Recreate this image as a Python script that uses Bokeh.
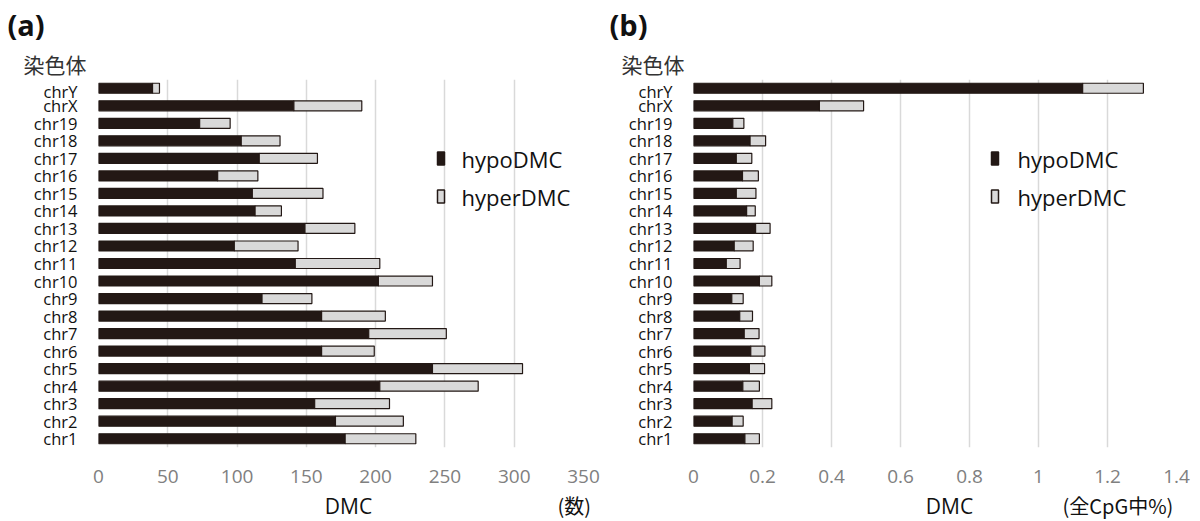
from bokeh.plotting import figure
from bokeh.models import (Label, BoxAnnotation, FactorRange, Range1d, ColumnDataSource,
                          FixedTicker, NumeralTickFormatter)
from bokeh.layouts import row, column
from bokeh.embed import file_html
from bokeh.resources import INLINE

chroms = ["chr1", "chr2", "chr3", "chr4", "chr5", "chr6", "chr7", "chr8", "chr9", "chr10",
          "chr11", "chr12", "chr13", "chr14", "chr15", "chr16", "chr17", "chr18", "chr19",
          "chrX", "chrY"]

# (a) DMC counts
hypo_count = [178, 171, 156, 203, 241, 161, 195, 161, 118, 202,
              142, 98, 149, 113, 111, 86, 116, 103, 73, 141, 39]
hyper_count = [51, 49, 54, 71, 65, 38, 56, 46, 36, 39,
               61, 46, 36, 19, 51, 29, 42, 28, 22, 49, 5]

# (b) DMC as % of all CpG
hypo_pct = [0.149, 0.112, 0.170, 0.143, 0.162, 0.166, 0.147, 0.134, 0.111, 0.191,
            0.095, 0.118, 0.180, 0.154, 0.124, 0.142, 0.124, 0.164, 0.114, 0.365, 1.128]
hyper_pct = [0.042, 0.032, 0.057, 0.048, 0.044, 0.041, 0.043, 0.037, 0.033, 0.036,
             0.040, 0.055, 0.042, 0.025, 0.057, 0.046, 0.045, 0.045, 0.032, 0.128, 0.176]

ticks_a = [0, 50, 100, 150, 200, 250, 300, 350]
ticks_b = [0, 0.2, 0.4, 0.6, 0.8, 1.0, 1.2, 1.4]

series_names = ["hypoDMC", "hyperDMC"]
panel_titles = ["(a)", "(b)"]
y_title = "染色体"
x_title = "DMC"
unit_labels = ["(数)", "(全CpG中%)"]

DARK = "#231815"
LIGHT = "#d9d9d9"
LATIN = "Open Sans"
CJK = "Noto Sans CJK JP"

W, H = 1200, 521
TOP, BOTTOM = 79, 32


def make_panel(hypo, hyper, ticks, xmax, fmt, border_left, border_right, leg_sq_x, leg_txt_x):
    total = [a + b for a, b in zip(hypo, hyper)]
    src = ColumnDataSource(dict(y=chroms, zero=[0] * len(chroms), hypo=hypo, total=total))
    p = figure(width=600, height=H - TOP - BOTTOM, output_backend="svg", toolbar_location=None,
               y_range=FactorRange(factors=chroms, range_padding=0),
               x_range=Range1d(0, xmax),
               min_border_left=border_left, min_border_right=border_right,
               min_border_top=0, min_border_bottom=42)
    p.outline_line_color = None
    p.background_fill_color = "white"
    p.border_fill_color = "white"

    p.hbar(y="y", left="zero", right="hypo", height=0.57, source=src,
           fill_color=DARK, line_color=DARK, line_width=1.2)
    p.hbar(y="y", left="hypo", right="total", height=0.57, source=src,
           fill_color=LIGHT, line_color=DARK, line_width=1.2)

    p.ygrid.grid_line_color = None
    p.xgrid.grid_line_color = "#d9d9d9"
    p.xgrid.grid_line_width = 1.5
    p.xaxis.ticker = FixedTicker(ticks=ticks)
    p.xgrid.ticker = FixedTicker(ticks=ticks)
    p.xaxis.formatter = NumeralTickFormatter(format=fmt)
    p.xaxis.axis_line_color = None
    p.xaxis.major_tick_line_color = None
    p.xaxis.minor_tick_line_color = None
    p.xaxis.major_label_text_font = LATIN
    p.xaxis.major_label_text_font_size = "19px"
    p.xaxis.major_label_text_color = "#808080"
    p.xaxis.major_label_standoff = 16

    p.yaxis.axis_line_color = None
    p.yaxis.major_tick_line_color = None
    p.yaxis.minor_tick_line_color = None
    p.yaxis.major_label_text_font = LATIN
    p.yaxis.major_label_text_font_size = "16.5px"
    p.yaxis.major_label_text_color = "#111111"
    p.yaxis.major_label_standoff = 15

    # legend (screen units relative to the frame, y upward)
    for i, (name, col) in enumerate(zip(series_names, [DARK, LIGHT])):
        cy = 289 - i * 38
        p.add_layout(BoxAnnotation(left=leg_sq_x, right=leg_sq_x + 7, top=cy + 6.5, bottom=cy - 6.5,
                                   left_units="screen", right_units="screen",
                                   top_units="screen", bottom_units="screen",
                                   fill_color=col, fill_alpha=1, line_color=DARK, line_width=1.5,
                                   line_alpha=1))
        p.add_layout(Label(x=leg_txt_x, y=cy, x_units="screen", y_units="screen", text=name,
                           text_font=LATIN, text_font_size="22px", text_baseline="middle",
                           text_color="#111111"))
    return p


def strip(height, y0):
    s = figure(width=W, height=height, output_backend="svg", toolbar_location=None,
               x_range=Range1d(0, W), y_range=Range1d(y0 + height, y0),
               x_axis_type=None, y_axis_type=None, min_border=0)
    s.outline_line_color = None
    s.grid.visible = False
    s.background_fill_color = "white"
    s.border_fill_color = "white"
    return s


top = strip(TOP, 0)
for tx, ttl in zip([7, 609], panel_titles):
    top.add_layout(Label(x=tx, y=24, text=ttl, text_font=LATIN, text_font_size="29px",
                         text_font_style="bold", text_baseline="middle", text_color="#111111"))
for tx in [23, 621]:
    top.add_layout(Label(x=tx, y=63, text=y_title, text_font=CJK, text_font_size="21px",
                         text_baseline="middle", text_color="#333333"))

bottom = strip(BOTTOM, H - BOTTOM)
for cx in [348, 949]:
    bottom.add_layout(Label(x=cx, y=505, text=x_title, text_font=LATIN, text_font_size="21px",
                            text_baseline="middle", text_align="center", text_color="#111111"))
for ux, unit in zip([557, 1062], unit_labels):
    bottom.add_layout(Label(x=ux, y=505, text=unit, text_font=CJK, text_font_size="20px",
                            text_baseline="middle", text_color="#111111"))

pa = make_panel(hypo_count, hyper_count, ticks_a, 350, "0", 98, 17, leg_sq_x=339, leg_txt_x=363)
pb = make_panel(hypo_pct, hyper_pct, ticks_b, 1.4, "0.[0]", 93, 24, leg_sq_x=298, leg_txt_x=324)

layout = column(top, row(pa, pb), bottom)
open("out.html", "w").write(file_html(layout, INLINE))
